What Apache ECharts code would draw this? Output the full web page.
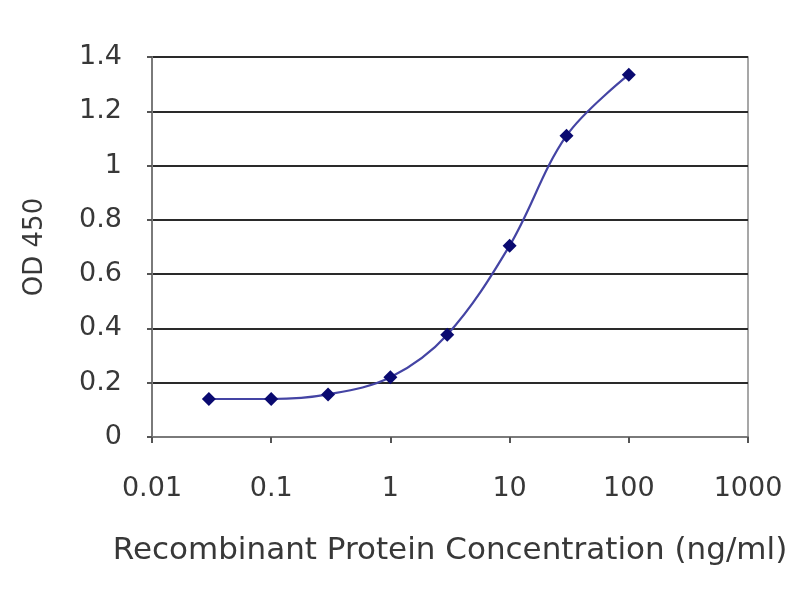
<!DOCTYPE html>
<html>
<head>
<meta charset="utf-8">
<script src="https://cdn.jsdelivr.net/npm/echarts@6/dist/echarts.min.js"></script>
<style>
  html, body { margin: 0; padding: 0; background: #ffffff; }
  #chart { width: 800px; height: 600px; }
</style>
</head>
<body>
<div id="chart"></div>
<script>
// concentration (ng/ml) and measured OD 450
const concentrations = [0.03, 0.1, 0.3, 1, 3, 10, 30, 100];
const odValues = [0.14, 0.14, 0.157, 0.22, 0.377, 0.705, 1.11, 1.335];
const xTickLabels = ["0.01", "0.1", "1", "10", "100", "1000"];
const yTickLabels = ["0", "0.2", "0.4", "0.6", "0.8", "1", "1.2", "1.4"];

const chart = echarts.init(document.getElementById("chart"));
const font = "DejaVu Sans";

const option = {
    backgroundColor: "#ffffff",
    animation: false,
    grid: {
        left: 152,
        right: 52,
        top: 57,
        bottom: 163,
        show: true,
        borderColor: "#8a8a8a",
        borderWidth: 1.5,
    },
    xAxis: {
        type: "log",
        logBase: 10,
        min: 0.01,
        max: 1000,
        name: "Recombinant Protein Concentration (ng/ml)",
        nameLocation: "middle",
        nameGap: 98,
        nameTextStyle: { fontFamily: font, fontSize: 31, color: "#383838" },
        axisLine: { lineStyle: { color: "#7a7a7a", width: 2 } },
        axisTick: { show: true, length: 6, inside: false, lineStyle: { color: "#555", width: 2 } },
        axisLabel: {
            fontFamily: font,
            fontSize: 27,
            color: "#383838",
            margin: 38,
            formatter: (v) => {
                const i = Math.round(Math.log10(v)) + 2;
                return xTickLabels[i] !== undefined ? xTickLabels[i] : "";
            },
        },
        splitLine: { show: false },
        minorTick: { show: false },
    },
    yAxis: {
        type: "value",
        min: 0,
        max: 1.4,
        interval: 0.2,
        name: "OD 450",
        nameLocation: "middle",
        nameGap: 104,
        nameRotate: 90,
        nameTextStyle: { fontFamily: font, fontSize: 26, color: "#383838" },
        axisLine: { show: true, lineStyle: { color: "#7a7a7a", width: 2 } },
        axisTick: { show: true, length: 5, lineStyle: { color: "#555", width: 2 } },
        axisLabel: {
            fontFamily: font,
            fontSize: 27,
            color: "#383838",
            margin: 30,
            formatter: (v) => yTickLabels[Math.round(v / 0.2)],
        },
        splitLine: { show: true, lineStyle: { color: "#2a2a2a", width: 2 } },
    },
    series: [
        {
            type: "line",
            data: concentrations.map((c, i) => [c, odValues[i]]),
            smooth: 0.35,
            symbol: "diamond",
            symbolSize: 14,
            itemStyle: { color: "#0a0a70" },
            lineStyle: { color: "#4444a4", width: 2.2 },
        },
    ],
};

chart.setOption(option);
</script>
</body>
</html>
